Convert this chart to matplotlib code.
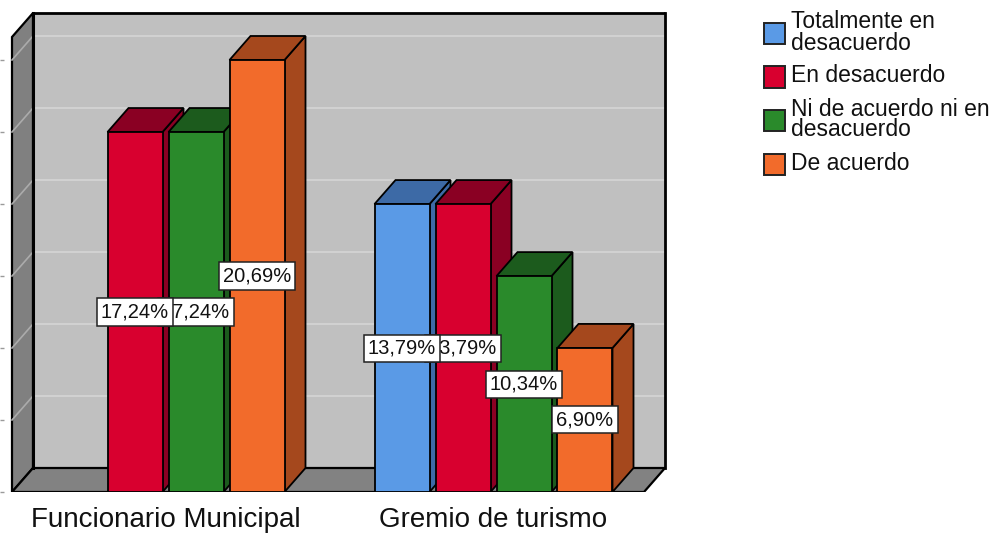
import numpy as np
import matplotlib
matplotlib.use("Agg")
import matplotlib.pyplot as plt
from matplotlib.patches import Polygon, Rectangle

# ---------------- data ----------------
categories = ["Funcionario Municipal", "Gremio de turismo"]
series = ["Totalmente en\ndesacuerdo", "En desacuerdo",
          "Ni de acuerdo ni en\ndesacuerdo", "De acuerdo"]
vals_funcionario = [0.0, 17.24, 17.24, 20.69]
vals_gremio = [13.79, 13.79, 10.34, 6.90]
values = [vals_funcionario, vals_gremio]
grid_counts = [1, 2, 3, 4, 5, 6]       # gridlines every 1 case out of 29
total_cases = 29

# ---------------- style ----------------
front_colors = ["#5A9AE6", "#D8002F", "#2A8A2B", "#F26B2B"]
dark_colors = ["#3D6AA6", "#8A0023", "#1C5B1D", "#A5481D"]

W, H, DPI = 997, 535, 100
fig = plt.figure(figsize=(W / DPI, H / DPI), dpi=DPI)
plt.rcParams["font.family"] = ["Liberation Sans", "DejaVu Sans"]

# axes placed in pixel space (left, right, bottom(y=0), top)
ax_l, ax_r, ax_b, ax_t = 8, 670, 492, 8
ax = fig.add_axes([ax_l / W, (H - ax_b) / H, (ax_r - ax_l) / W, (ax_b - ax_t) / H])
ax.patch.set_alpha(0)

px_per_cat = 328.0
px_per_pct = 20.88
cat0_px = 165.5
ax.set_xlim((ax_l - cat0_px) / px_per_cat, (ax_r - cat0_px) / px_per_cat)
ax.set_ylim(0, (ax_b - ax_t) / px_per_pct)

DX = 21 / px_per_cat     # depth offset in x (data units)
DY = 24 / px_per_pct     # depth offset in y (data units)
XL = (12 - cat0_px) / px_per_cat
XR = (644 - cat0_px) / px_per_cat
WALL_TOP = (492 - 13) / px_per_pct   # back-wall top (data y, already in back plane)

# back wall
ax.add_patch(Polygon([(XL + DX, DY), (XR + DX, DY), (XR + DX, WALL_TOP), (XL + DX, WALL_TOP)],
                     closed=True, facecolor="#C0C0C0", edgecolor="none", zorder=0))
# left side wall
ax.add_patch(Polygon([(XL, 0), (XL + DX, DY), (XL + DX, WALL_TOP), (XL, WALL_TOP - DY)],
                     closed=True, facecolor="#808080", edgecolor="black", lw=1.6, zorder=0.5))
# floor
ax.add_patch(Polygon([(XL, 0), (XR, 0), (XR + DX, DY), (XL + DX, DY)],
                     closed=True, facecolor="#828282", edgecolor="black", lw=1.6, zorder=0.5))

pct_step = 100.0 / total_cases
for c in grid_counts:
    g = c * pct_step
    ax.plot([XL + DX, XR + DX], [g + DY, g + DY], color="#D2D2D2", lw=1.4, zorder=0.3)
    ax.plot([XL, XL + DX], [g, g + DY], color="#ABABAB", lw=1.2, zorder=0.6)

# back wall outline (top, left, right)
ax.plot([XL + DX, XR + DX], [WALL_TOP, WALL_TOP], color="black", lw=2, zorder=0.7,
        solid_capstyle="butt")
ax.plot([XL + DX, XL + DX], [DY, WALL_TOP], color="black", lw=2.2, zorder=0.7)
ax.plot([XR + DX, XR + DX], [DY, WALL_TOP], color="black", lw=2, zorder=0.7)

# ---------------- bars ----------------
slot = 61 / px_per_cat
bw = 55 / px_per_cat
n = len(series)
k = 0
for ci, cat_vals in enumerate(values):
    for si, v in enumerate(cat_vals):
        if v <= 0:
            continue
        xc = ci + (si - (n - 1) / 2) * slot
        x0, x1 = xc - bw / 2, xc + bw / 2
        z = 2 + k * 0.1
        ax.add_patch(Polygon([(x1, 0), (x1 + DX, DY), (x1 + DX, v + DY), (x1, v)], closed=True,
                             facecolor=dark_colors[si], edgecolor="black", lw=1.3, zorder=z))
        ax.add_patch(Polygon([(x0, v), (x1, v), (x1 + DX, v + DY), (x0 + DX, v + DY)], closed=True,
                             facecolor=dark_colors[si], edgecolor="black", lw=1.3, zorder=z))
        ax.bar(xc, v, width=bw, color=front_colors[si], edgecolor="black", lw=1.3, zorder=z + 0.01)
        ax.text(xc, v / 2, f"{v:.2f}%".replace(".", ","), ha="center", va="center",
                fontsize=14.5, color="#111111", zorder=20 - k * 0.1,
                bbox=dict(boxstyle="square,pad=0.2", facecolor="white", edgecolor="#222222", lw=1.1))
        k += 1

# axes ticks / labels
for s in ax.spines.values():
    s.set_visible(False)
ax.spines["left"].set_position(("outward", 3))
ax.set_yticks([c * pct_step for c in grid_counts] + [0])
ax.set_yticklabels([])
ax.tick_params(axis="y", length=3, color="#9a9a9a", width=1)
ax.set_xticks(range(len(categories)))
ax.set_xticklabels(categories, fontsize=20, color="#111111")
ax.tick_params(axis="x", length=0, pad=11)

# ---------------- legend (manual, SPSS style) ----------------
sq_x, sq = 764, 21
text_x = 791
line_pitch, entry_pitch = 21, 33
y = 22
for si, lab in enumerate(series):
    lines = lab.split("\n")
    centers = [y + j * line_pitch for j in range(len(lines))]
    for j, ln in enumerate(lines):
        fig.text(text_x / W, 1 - centers[j] / H, ln, fontsize=16.5, color="#111111",
                 ha="left", va="center")
    sc = np.mean(centers) + 1
    fig.add_artist(Rectangle((sq_x / W, 1 - (sc + sq / 2) / H), sq / W, sq / H,
                             transform=fig.transFigure, facecolor=front_colors[si],
                             edgecolor="#222222", lw=1.4))
    y = centers[-1] + entry_pitch

fig.savefig("out.png", dpi=DPI, facecolor="white")
